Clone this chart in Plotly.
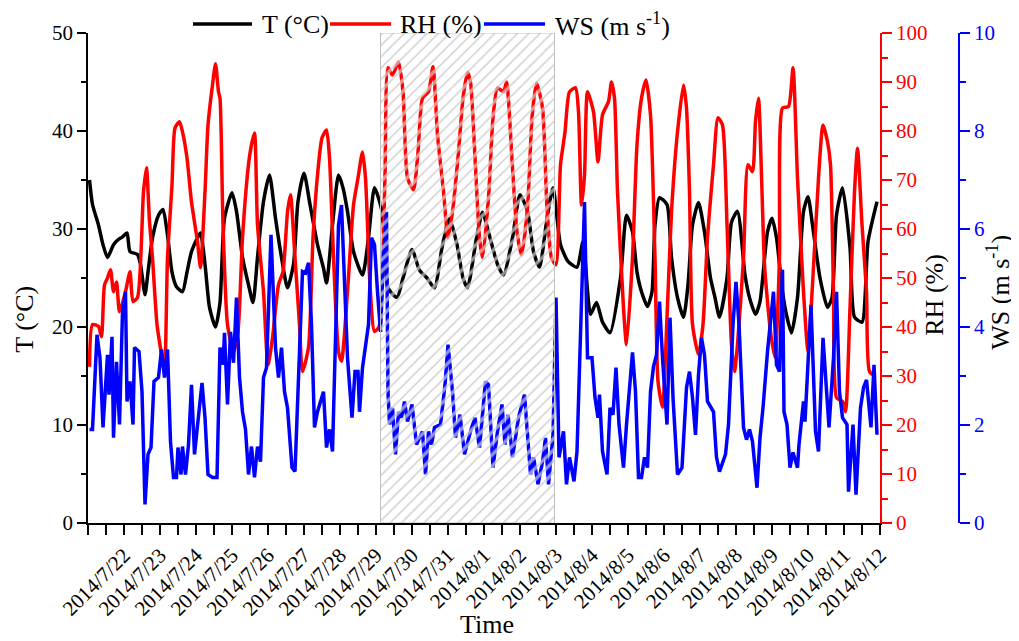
import datetime as dt
import plotly.graph_objects as go

# ---------------- data ----------------
BASE = dt.datetime(2014, 7, 21, 0, 0)

T_HOURS = [1, 3, 7, 10, 13, 17, 20, 23, 26, 28, 33, 35, 38, 40, 43, 47, 50, 53, 56, 59,
           63, 66, 69, 73, 75, 78, 81, 85, 88, 91, 96, 99, 103, 107, 110, 113, 117, 121, 125, 129,
           133, 137, 140, 144, 148, 153, 157, 159, 163, 167, 170, 173, 177, 183, 187, 191, 196, 200, 206, 210,
           216, 221, 226, 231, 236, 241, 246, 250, 253, 259, 263, 268, 273, 277, 283, 288, 293, 297, 301, 306,
           310, 315, 320, 326, 330, 335, 339, 343, 348, 355, 359, 363, 366, 369, 373, 376, 378, 381, 386, 389,
           393, 397, 400, 403, 407, 411, 415, 418, 421, 426, 429, 433, 438, 441, 445, 448, 453, 456, 459, 463,
           466, 469, 473, 477, 480, 483, 488, 493, 496, 499, 503, 508, 511, 516, 520, 526]
T_VALUES = [35.0, 32.5, 30.4, 28.4, 27.1, 28.4, 28.9, 29.2, 29.6, 27.7, 27.4, 26.4, 23.3, 25.6, 29.1, 31.4, 32.0, 29.4, 25.6, 24.1,
            23.6, 25.6, 27.7, 29.1, 29.6, 26.4, 22.0, 20.0, 22.5, 31.1, 33.7, 31.8, 27.1, 24.3, 22.5, 27.1, 32.8, 35.5, 31.1, 27.1,
            24.0, 26.4, 32.8, 35.7, 32.5, 28.4, 26.0, 24.5, 30.4, 35.5, 34.2, 31.8, 27.7, 25.3, 29.1, 34.2, 31.8, 24.0, 23.0, 25.0,
            27.9, 25.8, 25.0, 24.0, 28.1, 31.1, 28.4, 25.0, 24.0, 29.1, 31.7, 29.1, 26.4, 25.3, 29.1, 33.5, 31.8, 27.7, 26.1, 31.1,
            34.2, 28.4, 26.7, 26.1, 28.7, 21.3, 22.5, 20.5, 19.4, 25.0, 31.4, 29.7, 25.6, 23.6, 22.1, 23.6, 30.4, 33.2, 32.5, 27.1,
            23.0, 21.0, 24.3, 30.4, 32.7, 29.7, 25.0, 23.0, 21.0, 25.0, 30.7, 31.8, 25.3, 23.0, 21.3, 22.6, 29.7, 31.1, 29.1, 23.6,
            21.0, 19.4, 23.0, 31.8, 33.3, 30.4, 25.0, 22.0, 23.0, 31.4, 34.2, 28.1, 21.0, 20.5, 28.7, 32.8]

RH_HOURS = [1, 3, 7, 9, 11, 13, 15, 17, 19, 21, 25, 28, 30, 33, 37, 39, 41, 43, 46, 49,
            51, 53, 56, 58, 61, 63, 66, 69, 73, 75, 78, 80, 83, 85, 87, 88, 90, 93, 97, 100,
            103, 107, 109, 111, 113, 117, 120, 123, 127, 130, 133, 135, 138, 141, 143, 147, 150, 153, 156, 159,
            161, 163, 167, 169, 173, 177, 180, 183, 185, 188, 191, 194, 196, 198, 200, 203, 207, 210, 213, 217,
            220, 223, 227, 230, 233, 237, 240, 243, 247, 250, 253, 255, 258, 261, 263, 267, 270, 273, 277, 279,
            283, 286, 289, 293, 296, 299, 303, 306, 309, 312, 315, 318, 321, 325, 327, 329, 331, 333, 337, 340,
            343, 347, 349, 351, 353, 357, 359, 363, 366, 369, 372, 375, 378, 380, 383, 386, 389, 393, 397, 399,
            401, 403, 407, 410, 413, 417, 420, 423, 426, 429, 431, 433, 437, 440, 443, 445, 447, 449, 451, 455,
            458, 461, 463, 467, 470, 473, 477, 480, 483, 487, 490, 493, 495, 497, 499, 503, 505, 508, 511, 513,
            516, 519, 521, 525]
RH_VALUES = [31.9, 40.5, 40.1, 38.0, 48.6, 50.0, 51.7, 47.2, 49.2, 43.1, 47.2, 51.3, 45.2, 46.0, 67.6, 72.5, 61.5, 54.1, 40.5, 34.4,
             30.9, 54.1, 69.0, 80.6, 81.9, 79.8, 74.5, 65.5, 57.4, 52.1, 67.6, 81.2, 89.4, 93.7, 88.0, 86.7, 60.9, 40.5, 35.0, 39.1,
             58.2, 73.1, 77.2, 79.6, 60.9, 47.2, 32.3, 37.8, 48.6, 51.3, 63.5, 67.0, 54.1, 40.5, 30.9, 35.8, 58.2, 71.0, 78.6, 80.2,
             74.5, 59.4, 35.0, 33.0, 47.2, 64.9, 70.4, 75.7, 70.4, 48.6, 39.1, 40.0, 48.0, 71.0, 92.9, 91.4, 94.1, 88.0, 70.4, 68.0,
             75.7, 86.7, 88.0, 93.1, 79.2, 67.6, 58.2, 63.5, 75.7, 86.7, 92.0, 90.0, 74.5, 58.2, 54.1, 66.4, 82.7, 88.8, 88.0, 90.0,
             72.5, 59.4, 54.7, 64.3, 82.7, 89.8, 84.7, 64.3, 54.1, 52.7, 73.1, 79.8, 88.0, 88.8, 83.9, 64.9, 71.0, 88.0, 83.9, 73.7,
             83.3, 86.0, 90.0, 86.7, 67.6, 43.9, 36.4, 54.1, 77.2, 86.7, 90.4, 83.3, 54.1, 28.9, 23.6, 41.9, 63.5, 79.8, 89.4, 84.7,
             67.6, 40.5, 34.4, 40.5, 58.2, 73.1, 82.7, 81.2, 60.9, 36.4, 30.9, 36.4, 54.1, 73.1, 71.7, 81.9, 86.7, 71.0, 52.7, 39.1,
             33.8, 54.1, 84.7, 85.0, 92.9, 70.4, 47.2, 35.0, 48.6, 70.4, 81.2, 77.8, 73.1, 47.2, 25.6, 24.8, 22.7, 43.9, 67.6, 76.5,
             60.9, 47.2, 30.9, 30.0]

WS_HOURS = [1, 3, 6, 8, 10, 13, 14, 16, 17, 19, 21, 23, 25, 26, 28, 30, 31, 34, 36, 38,
            40, 42, 44, 47, 49, 51, 53, 55, 57, 59, 60, 62, 63, 65, 67, 69, 71, 73, 76, 78,
            80, 83, 86, 88, 90, 91, 93, 95, 97, 99, 101, 103, 105, 107, 109, 111, 113, 115, 117, 119,
            122, 125, 127, 129, 131, 133, 136, 138, 140, 143, 145, 147, 149, 151, 153, 156, 157, 159, 161, 163,
            165, 167, 169, 171, 173, 176, 178, 180, 181, 183, 187, 189, 191, 193, 195, 197, 199, 200, 201, 203,
            205, 207, 209, 211, 213, 216, 219, 223, 225, 227, 229, 231, 235, 238, 240, 243, 245, 248, 251, 255,
            258, 261, 265, 267, 270, 273, 276, 278, 280, 283, 287, 291, 295, 297, 300, 303, 305, 307, 310, 312,
            314, 317, 319, 321, 324, 326, 329, 331, 333, 336, 338, 340, 341, 343, 346, 348, 350, 352, 354, 357,
            359, 363, 365, 367, 369, 371, 373, 375, 377, 379, 381, 383, 386, 388, 390, 393, 396, 399, 401, 403,
            405, 407, 409, 411, 413, 417, 419, 421, 425, 427, 430, 432, 434, 437, 439, 441, 443, 446, 448, 450,
            453, 457, 459, 461, 463, 464, 466, 468, 470, 473, 474, 477, 478, 480, 482, 485, 487, 490, 493, 494,
            497, 499, 501, 503, 506, 507, 510, 512, 515, 517, 519, 522, 524, 526]
WS_VALUES = [1.91, 1.91, 3.84, 3.37, 1.95, 3.43, 2.62, 3.80, 1.74, 3.29, 2.01, 4.31, 4.72, 2.48, 2.89, 2.01, 3.58, 3.50, 2.68, 0.38,
             1.40, 1.54, 2.89, 2.97, 3.54, 2.97, 3.54, 1.66, 0.93, 0.93, 1.54, 0.99, 1.56, 0.99, 1.60, 2.82, 1.40, 2.01, 2.86, 2.15,
             0.99, 0.93, 0.93, 3.58, 3.23, 3.88, 2.42, 3.90, 3.27, 4.60, 2.97, 2.27, 1.91, 0.99, 1.56, 0.93, 1.56, 1.25, 2.97, 3.17,
             5.88, 3.58, 2.97, 3.58, 2.68, 2.35, 1.13, 1.05, 2.68, 5.13, 5.10, 5.31, 4.05, 1.95, 2.27, 2.62, 2.68, 1.54, 1.91, 1.46,
             4.05, 6.08, 6.49, 4.86, 3.37, 2.15, 3.09, 3.09, 2.27, 3.17, 4.05, 5.82, 5.68, 4.72, 3.90, 5.41, 6.35, 2.68, 2.01, 2.35,
             1.40, 2.27, 2.15, 2.48, 2.07, 2.42, 1.60, 1.87, 0.99, 1.87, 1.60, 1.95, 2.01, 2.82, 3.64, 2.68, 1.74, 2.21, 1.40, 1.87,
             2.15, 1.54, 2.89, 2.82, 1.13, 1.87, 2.42, 1.60, 2.21, 1.34, 2.15, 2.62, 0.99, 1.34, 0.79, 1.25, 1.74, 0.79, 1.80, 4.60,
             1.34, 1.87, 0.79, 1.34, 0.85, 1.46, 4.72, 6.55, 3.37, 3.37, 2.56, 2.15, 2.62, 1.46, 0.99, 2.35, 2.21, 3.17, 2.01, 1.13,
             2.01, 3.48, 2.68, 0.93, 0.93, 1.34, 1.13, 2.68, 3.19, 3.43, 4.52, 3.37, 2.01, 4.19, 2.56, 0.99, 1.13, 2.76, 3.09, 2.56,
             1.80, 3.03, 3.78, 3.43, 2.48, 2.27, 1.34, 1.05, 1.40, 2.01, 4.05, 4.92, 4.05, 1.95, 1.70, 1.91, 1.66, 0.72, 1.74, 2.35,
             3.50, 4.72, 3.23, 3.09, 5.17, 2.27, 2.01, 1.13, 1.44, 1.13, 1.60, 2.48, 2.07, 3.23, 4.45, 1.87, 1.46, 3.78, 2.42, 1.95,
             3.37, 4.72, 2.68, 2.15, 2.01, 0.64, 2.01, 0.58, 2.35, 2.76, 2.92, 1.95, 3.23, 1.80]

TICK_DATES = ["2014-07-22", "2014-07-23", "2014-07-24", "2014-07-25", "2014-07-26", "2014-07-27",
              "2014-07-28", "2014-07-29", "2014-07-30", "2014-07-31", "2014-08-01", "2014-08-02",
              "2014-08-03", "2014-08-04", "2014-08-05", "2014-08-06", "2014-08-07", "2014-08-08",
              "2014-08-09", "2014-08-10", "2014-08-11", "2014-08-12"]
TICK_LABELS = ["2014/7/22", "2014/7/23", "2014/7/24", "2014/7/25", "2014/7/26", "2014/7/27",
               "2014/7/28", "2014/7/29", "2014/7/30", "2014/7/31", "2014/8/1", "2014/8/2",
               "2014/8/3", "2014/8/4", "2014/8/5", "2014/8/6", "2014/8/7", "2014/8/8",
               "2014/8/9", "2014/8/10", "2014/8/11", "2014/8/12"]
X_RANGE = ["2014-07-21 00:00", "2014-08-12 00:00"]
HATCH_START = "2014-07-29 03:00"
HATCH_END = "2014-08-02 23:00"

SERIES_NAMES = ["T (°C)", "RH (%)", "WS (m s<sup>-1</sup>)"]
COLORS = ["#000000", "#ff0000", "#0000ff"]

# ---------------- figure ----------------
FONT = "Liberation Serif, Times New Roman, serif"
OFF = 8                      # the page body margin in front of the figure
W, H = 1019 - OFF, 641 - OFF
PLOT_L, PLOT_T, PLOT_B, PLOT_RIGHT, WS_AXIS = 88, 33, 523.5, 880, 959   # page pixels
ML, MT = PLOT_L - OFF, PLOT_T - OFF
MB = H - (PLOT_B - OFF)
MR = W - (WS_AXIS - OFF)
PW = W - ML - MR
PH = H - MT - MB


def t_of(hours):
    return [BASE + dt.timedelta(hours=h) for h in hours]


def px(x):
    return (x - PLOT_L) / PW


def py(y):
    return (PLOT_B - y) / PH


fig = go.Figure()
fig.add_trace(go.Scatter(x=t_of(T_HOURS), y=T_VALUES, mode="lines", name=SERIES_NAMES[0],
                         line=dict(color=COLORS[0], width=3.5, shape="spline", smoothing=0.6),
                         yaxis="y", showlegend=False))
fig.add_trace(go.Scatter(x=t_of(RH_HOURS), y=RH_VALUES, mode="lines", name=SERIES_NAMES[1],
                         line=dict(color=COLORS[1], width=3.5, shape="spline", smoothing=0.6),
                         yaxis="y2", showlegend=False))
fig.add_trace(go.Scatter(x=t_of(WS_HOURS), y=WS_VALUES, mode="lines", name=SERIES_NAMES[2],
                         line=dict(color=COLORS[2], width=3.5),
                         yaxis="y3", showlegend=False))

# hatched period drawn on top of the lines
hx = [HATCH_START, HATCH_END, HATCH_END, HATCH_START, HATCH_START]
hy = [0, 0, 10, 10, 0]
fig.add_trace(go.Scatter(x=hx, y=hy, mode="lines", fill="toself", fillcolor="rgba(0,0,0,0)",
                         line=dict(width=0, color="rgba(0,0,0,0)"),
                         fillpattern=dict(shape="/", size=8, solidity=0.45, fgcolor="white",
                                          bgcolor="rgba(0,0,0,0)"),
                         yaxis="y3", showlegend=False, hoverinfo="skip"))
fig.add_trace(go.Scatter(x=hx, y=hy, mode="lines", fill="toself", fillcolor="rgba(0,0,0,0)",
                         line=dict(width=1, color="#c0c0c0"),
                         fillpattern=dict(shape="/", size=8, solidity=0.2, fgcolor="#a8a8a8",
                                          bgcolor="rgba(0,0,0,0)"),
                         yaxis="y3", showlegend=False, hoverinfo="skip"))

tickfont = dict(family=FONT, size=21, color="black")
fig.update_layout(
    width=W, height=H,
    margin=dict(l=ML, r=MR, t=MT, b=MB, pad=0, autoexpand=False),
    paper_bgcolor="white", plot_bgcolor="white",
    font=dict(family=FONT, size=21, color="black"),
    showlegend=False,
    xaxis=dict(domain=[0, (PLOT_RIGHT - PLOT_L) / PW], range=X_RANGE, type="date",
               showline=True, linecolor="black", linewidth=1.5, mirror=False,
               ticks="outside", ticklen=10, tickwidth=1.5, tickcolor="black",
               tickvals=TICK_DATES, ticktext=TICK_LABELS, tickangle=-45, tickfont=tickfont,
               minor=dict(dtick=43200000, tick0="2014-07-21", ticks="outside", ticklen=10,
                          tickwidth=1.5, tickcolor="black", showgrid=False),
               showgrid=False, zeroline=False),
    yaxis=dict(range=[0, 50], dtick=10, tick0=0, showline=True, linecolor="black", linewidth=1.5,
               ticks="outside", ticklen=9, tickwidth=1.5, tickcolor="black", tickfont=tickfont,
               minor=dict(dtick=5, ticks="outside", ticklen=5, tickwidth=1.5, tickcolor="black", showgrid=False),
               showgrid=False, zeroline=False, anchor="x"),
    yaxis2=dict(range=[0, 100], dtick=10, tick0=0, overlaying="y", side="right", anchor="x",
                showline=True, linecolor="#ff0000", linewidth=1.5,
                ticks="outside", ticklen=10, tickwidth=1.5, tickcolor="#ff0000",
                tickfont=dict(family=FONT, size=21, color="#ff0000"),
                minor=dict(dtick=5, ticks="outside", ticklen=6, tickwidth=1.5, tickcolor="#ff0000", showgrid=False),
                showgrid=False, zeroline=False),
    yaxis3=dict(range=[0, 10], dtick=2, tick0=0, overlaying="y", side="right", anchor="free", position=1.0,
                showline=True, linecolor="#0000ff", linewidth=1.5,
                ticks="outside", ticklen=10, tickwidth=1.5, tickcolor="#0000ff",
                tickfont=dict(family=FONT, size=21, color="#0000ff"),
                minor=dict(dtick=1, ticks="outside", ticklen=6, tickwidth=1.5, tickcolor="#0000ff", showgrid=False),
                showgrid=False, zeroline=False),
)

# axis titles
TITLE_SIZE = 26
titles = [("T (°C)", 25, 320, -90), ("RH (%)", 935, 295, -90),
          ("WS (m s<sup>-1</sup>)", 999, 293, -90), ("Time", 487, 625, 0)]
for text, tx, ty, ang in titles:
    fig.add_annotation(x=px(tx), y=py(ty), xref="paper", yref="paper", text=text, textangle=ang,
                       xanchor="center", yanchor="middle", showarrow=False,
                       font=dict(family=FONT, size=TITLE_SIZE, color="black"))

# legend (drawn manually to match the layout of the original)
LEG_Y = 24
leg_items = [(193, 252, 260), (330, 391, 398), (484, 545, 553)]
for (x0, x1, xt), name, col in zip(leg_items, SERIES_NAMES, COLORS):
    fig.add_shape(type="line", xref="paper", yref="paper", x0=px(x0), x1=px(x1), y0=py(LEG_Y), y1=py(LEG_Y),
                  line=dict(color=col, width=3.5))
    fig.add_annotation(x=px(xt), y=py(LEG_Y), xref="paper", yref="paper", text=name, xanchor="left",
                       yanchor="middle", showarrow=False, font=dict(family=FONT, size=TITLE_SIZE, color="black"))

fig.write_html("out.html")
